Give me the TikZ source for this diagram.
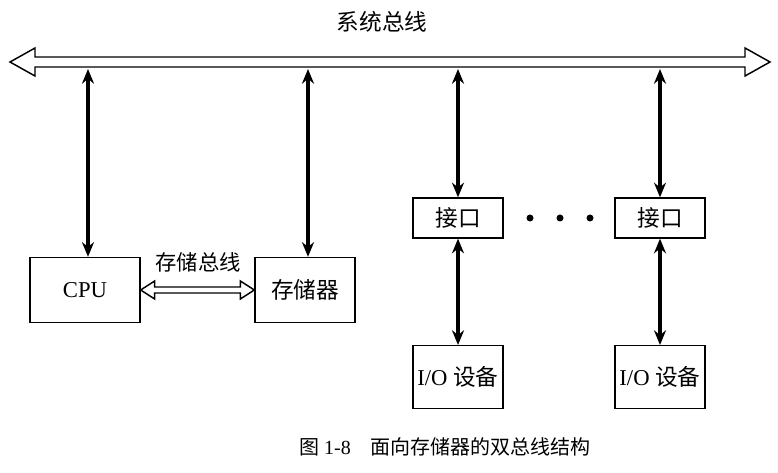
\documentclass[tikz,border=0pt]{standalone}
\usepackage{fontspec}
\setmainfont{Liberation Serif}
\newfontfamily\cjk{Noto Sans CJK SC}
\usetikzlibrary{arrows.meta,calc}

\begin{document}
\begin{tikzpicture}[x=0.75pt, y=-0.75pt, thick,
  box/.style = {draw, line width=1pt, font=\fontsize{17}{20}\selectfont},
  link/.style = {line width=3pt, {Stealth[length=11pt,width=9pt]}-{Stealth[length=11pt,width=9pt]}},
  hollow/.style = {draw, line width=1.1pt, fill=white}]
\useasboundingbox (0,0) rectangle (778,473);

% system bus
\coordinate (busL) at (10,62);
\coordinate (busR) at (770,62);
\draw[hollow] (busL) -- ++(25,-14) -- ++(0,9) -- ($(busR)+(-25,-5)$) -- ++(0,-9) -- (busR)
  -- ++(-25,14) -- ++(0,-9) -- ($(busL)+(25,5)$) -- ++(0,9) -- cycle;
\node[font=\cjk\fontsize{17}{20}\selectfont] (title) at (382,22) {系统总线};

% boxes
\node[box, minimum width=82.5pt, minimum height=48.75pt] (cpu) at (85,290) {CPU};
\node[box, minimum width=75pt, minimum height=48.75pt] (mem) at (305,290) {\cjk 存储器};
\node[box, minimum width=67.5pt, minimum height=30pt] (if1) at (458,218) {\cjk 接口};
\node[box, minimum width=67.5pt, minimum height=30pt] (if2) at (660,218) {\cjk 接口};
\node[box, minimum width=67.5pt, minimum height=47pt] (io1) at (458,377) {I/O {\cjk 设备}};
\node[box, minimum width=67.5pt, minimum height=47pt] (io2) at (660,377) {I/O {\cjk 设备}};

% links to the bus
\foreach \n/\x in {cpu/88, mem/308, if1/458, if2/660}
  \draw[link] (\x,69) -- (\n.north -| \x,0);
\draw[link] (if1) -- (io1);
\draw[link] (if2) -- (io2);

% dots
\foreach \x in {530,560,590}
  \fill (\x,218) circle (3.5);

% memory bus
\coordinate (mL) at (cpu.east);
\coordinate (mR) at (mem.west);
\draw[hollow] (mL) -- ++(14,-9) -- ++(0,6) -- ($(mR)+(-14,-3)$) -- ++(0,-6) -- (mR)
  -- ++(-14,9) -- ++(0,-6) -- ($(mL)+(14,3)$) -- ++(0,6) -- cycle;
\node[font=\cjk\fontsize{16}{19}\selectfont] (mbus) at (198,262) {存储总线};

% caption
\node[font=\fontsize{15}{18}\selectfont] (cap) at (445,447) {{\cjk 图} 1-8\quad{\cjk 面向存储器的双总线结构}};
\end{tikzpicture}
\end{document}
